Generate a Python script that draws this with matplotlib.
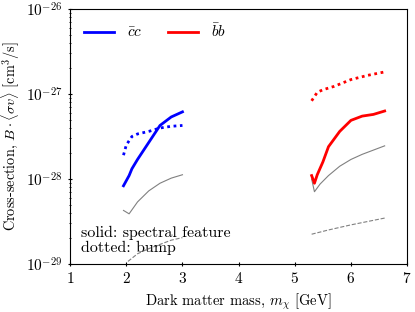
import numpy as np
import matplotlib
matplotlib.use("Agg")
import matplotlib.pyplot as plt

plt.rcParams["font.family"] = "serif"
plt.rcParams["font.serif"] = ["cmr10"]
plt.rcParams["mathtext.fontset"] = "cm"
plt.rcParams["axes.formatter.use_mathtext"] = True
plt.rcParams["font.size"] = 10

# log10 of cross-section values
cc_x_solid = [1.95, 2.0, 2.05, 2.1, 2.2, 2.4, 2.6, 2.8, 3.0]
cc_y_solid = [-28.08, -28.02, -27.96, -27.88, -27.77, -27.57, -27.37, -27.27, -27.21]
cc_x_bump = [1.95, 2.0, 2.1, 2.2, 2.4, 2.6, 2.8, 3.0]
cc_y_bump = [-27.72, -27.60, -27.50, -27.47, -27.44, -27.40, -27.38, -27.37]
cc_x_gray = [1.95, 2.05, 2.2, 2.4, 2.6, 2.8, 3.0]
cc_y_gray = [-28.37, -28.41, -28.27, -28.14, -28.05, -27.99, -27.95]
cc_x_dash = [2.03, 2.2, 2.4, 2.6, 2.8, 3.0]
cc_y_dash = [-28.97, -28.88, -28.82, -28.77, -28.72, -28.69]

bb_x_solid = [5.3, 5.35, 5.4, 5.5, 5.6, 5.8, 6.0, 6.2, 6.4, 6.6]
bb_y_solid = [-27.96, -28.05, -27.95, -27.80, -27.62, -27.44, -27.31, -27.26, -27.24, -27.20]
bb_x_bump = [5.3, 5.4, 5.5, 5.7, 6.0, 6.3, 6.6]
bb_y_bump = [-27.08, -26.98, -26.95, -26.91, -26.83, -26.78, -26.74]
bb_x_gray = [5.3, 5.35, 5.45, 5.6, 5.8, 6.0, 6.2, 6.4, 6.6]
bb_y_gray = [-28.00, -28.15, -28.06, -27.96, -27.85, -27.77, -27.71, -27.66, -27.61]
bb_x_dash = [5.3, 5.6, 6.0, 6.3, 6.6]
bb_y_dash = [-28.65, -28.60, -28.54, -28.50, -28.46]

y_ticks = [1e-29, 1e-28, 1e-27, 1e-26]

def pw(v):
    return 10.0 ** np.array(v)

fig = plt.figure(figsize=(4.15, 3.12), dpi=100)
ax = fig.add_axes([0.169, 0.154, 0.812, 0.817])

# gray reference curves
ax.plot(cc_x_gray, pw(cc_y_gray), color="gray", lw=0.8)
ax.plot(bb_x_gray, pw(bb_y_gray), color="gray", lw=0.8)
ax.plot(cc_x_dash, pw(cc_y_dash), color="gray", lw=0.8, ls="--")
ax.plot(bb_x_dash, pw(bb_y_dash), color="gray", lw=0.8, ls="--")

ax.plot(cc_x_solid, pw(cc_y_solid), color="blue", lw=2, label=r"$\bar{c}c$")
ax.plot(cc_x_bump, pw(cc_y_bump), color="blue", lw=2, ls=(0, (1, 1.3)))
ax.plot(bb_x_solid, pw(bb_y_solid), color="red", lw=2, label=r"$\bar{b}b$")
ax.plot(bb_x_bump, pw(bb_y_bump), color="red", lw=2, ls=(0, (1, 1.3)))

ax.set_yscale("log")
ax.set_xlim(1, 7)
ax.set_ylim(1e-29, 1e-26)
ax.set_yticks(y_ticks)
ax.set_xlabel(r"Dark matter mass, $m_\chi$ [GeV]", fontsize=10.5)
ax.set_ylabel(r"Cross-section, $B\cdot\langle\sigma v\rangle$ [cm$^3$/s]", fontsize=10.3)
ax.yaxis.set_label_coords(-0.143, 0.5)
ax.tick_params(which="both", direction="inout", top=False, right=False)
ax.tick_params(labelsize=11)

ax.text(1.2, pw(-28.72), "solid: spectral feature\ndotted: bump", va="center", ha="left",
        fontsize=11.5, linespacing=1.1)
ax.legend(loc="upper left", ncol=2, frameon=False, handlelength=2.0, columnspacing=1.7,
          fontsize=11)

fig.savefig("out.png", dpi=100)
